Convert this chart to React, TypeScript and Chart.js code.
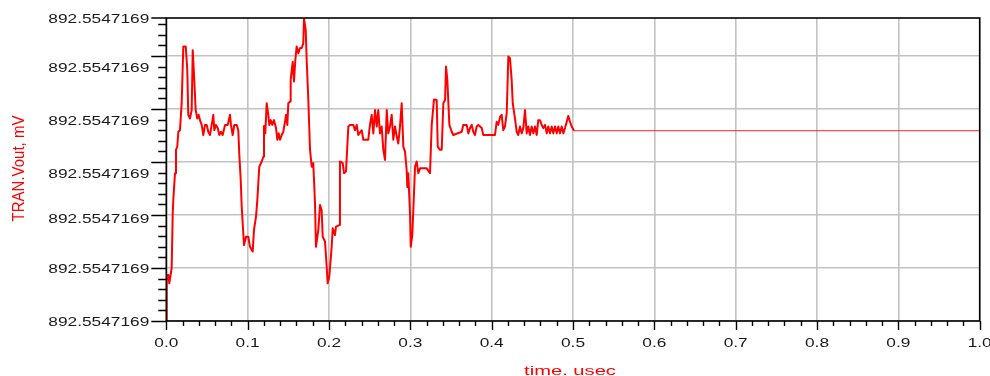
import React, { useEffect, useRef } from 'react';
import { Chart, registerables } from 'chart.js';

Chart.register(...registerables);

// time axis, usec
const timeUs = [
  0.0000, 0.0005, 0.0012, 0.0025, 0.0037, 0.0066, 0.0079, 0.0086, 0.0107, 0.0119,
  0.0135, 0.0148, 0.0168, 0.0189, 0.0209, 0.0239, 0.0258, 0.0270, 0.0291, 0.0312,
  0.0325, 0.0344, 0.0361, 0.0381, 0.0398, 0.0414, 0.0435, 0.0455, 0.0476, 0.0497,
  0.0516, 0.0537, 0.0558, 0.0578, 0.0590, 0.0611, 0.0632, 0.0652, 0.0672, 0.0693,
  0.0722, 0.0755, 0.0783, 0.0795, 0.0816, 0.0836, 0.0866, 0.0885, 0.0897, 0.0915,
  0.0927, 0.0955, 0.0980, 0.1008, 0.1029, 0.1062, 0.1078, 0.1103, 0.1119, 0.1143,
  0.1173, 0.1193, 0.1201, 0.1217, 0.1234, 0.1254, 0.1266, 0.1284, 0.1303, 0.1324,
  0.1349, 0.1365, 0.1382, 0.1398, 0.1419, 0.1438, 0.1456, 0.1472, 0.1488, 0.1500,
  0.1521, 0.1529, 0.1554, 0.1570, 0.1586, 0.1603, 0.1623, 0.1644, 0.1665, 0.1684,
  0.1693, 0.1714, 0.1726, 0.1746, 0.1767, 0.1788, 0.1807, 0.1828, 0.1840, 0.1869,
  0.1890, 0.1910, 0.1923, 0.1951, 0.1972, 0.1984, 0.2004, 0.2033, 0.2046, 0.2074,
  0.2086, 0.2127, 0.2135, 0.2169, 0.2185, 0.2209, 0.2238, 0.2258, 0.2299, 0.2320,
  0.2341, 0.2360, 0.2402, 0.2422, 0.2483, 0.2504, 0.2525, 0.2545, 0.2566, 0.2587,
  0.2606, 0.2627, 0.2648, 0.2668, 0.2689, 0.2710, 0.2729, 0.2750, 0.2771, 0.2791,
  0.2812, 0.2833, 0.2852, 0.2873, 0.2894, 0.2914, 0.2935, 0.2955, 0.2963, 0.2975,
  0.2996, 0.3005, 0.3024, 0.3037, 0.3058, 0.3078, 0.3098, 0.3119, 0.3201, 0.3242,
  0.3263, 0.3291, 0.3324, 0.3337, 0.3365, 0.3386, 0.3406, 0.3427, 0.3439, 0.3455,
  0.3480, 0.3509, 0.3528, 0.3632, 0.3651, 0.3693, 0.3713, 0.3734, 0.3755, 0.3774,
  0.3795, 0.3816, 0.3836, 0.3878, 0.3897, 0.4041, 0.4062, 0.4082, 0.4103, 0.4123,
  0.4143, 0.4164, 0.4185, 0.4205, 0.4225, 0.4246, 0.4259, 0.4287, 0.4308, 0.4327,
  0.4348, 0.4369, 0.4389, 0.4410, 0.4431, 0.4451, 0.4471, 0.4492, 0.4512, 0.4533,
  0.4554, 0.4573, 0.4594, 0.4615, 0.4635, 0.4656, 0.4677, 0.4696, 0.4717, 0.4738,
  0.4758, 0.4779, 0.4800, 0.4819, 0.4840, 0.4861, 0.4881, 0.4902, 0.4923, 0.4942,
  0.4963, 0.4984, 0.5012,
];

// TRAN.Vout deviation (relative units, one unit = one grid division)
const voutOffset = [
  0.00, 0.74, 0.87, 0.87, 0.71, 1.00, 2.04, 2.28, 2.79, 3.23,
  3.29, 3.57, 3.60, 4.11, 5.18, 5.18, 4.74, 3.89, 3.82, 3.98,
  5.11, 4.55, 3.98, 3.82, 3.89, 3.79, 3.70, 3.51, 3.70, 3.70,
  3.57, 3.51, 3.70, 3.89, 3.60, 3.70, 3.64, 3.51, 3.57, 3.51,
  3.70, 3.70, 3.89, 3.70, 3.51, 3.70, 3.70, 3.60, 3.16, 2.66,
  2.16, 1.43, 1.59, 1.59, 1.40, 1.31, 1.72, 1.97, 2.28, 2.91,
  3.01, 3.10, 3.68, 3.54, 4.11, 3.89, 3.70, 3.79, 3.70, 3.79,
  3.64, 3.42, 3.54, 3.42, 3.51, 3.57, 3.73, 3.89, 3.70, 4.11,
  4.14, 4.55, 4.89, 4.52, 4.92, 5.18, 5.05, 5.15, 5.15, 5.24,
  5.71, 5.49, 4.92, 4.17, 3.23, 2.91, 2.98, 2.23, 1.40, 1.72,
  2.19, 2.09, 1.59, 1.50, 1.02, 0.71, 0.84, 1.40, 1.75, 1.62,
  1.78, 1.81, 3.01, 2.98, 2.79, 2.82, 3.67, 3.70, 3.70, 3.60,
  3.70, 3.51, 3.60, 3.42, 3.42, 3.70, 3.89, 3.54, 3.98, 3.67,
  3.98, 3.54, 3.67, 3.23, 3.04, 3.98, 3.54, 3.67, 3.89, 3.42,
  3.67, 3.48, 3.35, 3.67, 4.11, 3.29, 3.19, 2.85, 2.53, 2.79,
  2.03, 1.40, 1.62, 2.09, 2.91, 3.01, 2.79, 2.88, 2.88, 2.79,
  3.70, 4.18, 4.17, 3.29, 3.23, 3.23, 4.11, 4.17, 4.80, 4.55,
  3.70, 3.57, 3.51, 3.57, 3.70, 3.70, 3.54, 3.64, 3.70, 3.57,
  3.51, 3.67, 3.70, 3.64, 3.51, 3.51, 3.76, 3.70, 3.85, 3.89,
  3.60, 3.67, 3.92, 4.99, 4.96, 4.55, 4.11, 3.82, 3.57, 3.51,
  3.67, 3.54, 3.64, 3.98, 3.54, 3.67, 3.51, 3.67, 3.54, 3.67,
  3.51, 3.79, 3.79, 3.70, 3.64, 3.70, 3.54, 3.67, 3.54, 3.67,
  3.54, 3.67, 3.54, 3.67, 3.54, 3.67, 3.54, 3.64, 3.76, 3.87,
  3.76, 3.67, 3.59,
];

// settled tail
const tailTime = [0.5012, 1.0];
const tailValue = [3.59, 3.59];

// axes
const xMin = 0;
const xMax = 1.0;
const xTickValues = [0, 0.1, 0.2, 0.3, 0.4, 0.5, 0.6, 0.7, 0.8, 0.9, 1.0];
const xTickLabels = ['0.0', '0.1', '0.2', '0.3', '0.4', '0.5', '0.6', '0.7', '0.8', '0.9', '1.0'];
const yMin = 0;
const yMax = 5.717;
const yGridValues = [0, 1, 2, 3, 4, 5];
const yLabelValues = [0, 1.0, 1.943, 2.783, 3.783, 4.79, 5.717];
const yTickLabels = [
  '892.5547169', '892.5547169', '892.5547169', '892.5547169',
  '892.5547169', '892.5547169', '892.5547169',
];
const xTitle = 'time. usec';
const yTitle = 'TRAN.Vout, mV';

const FONT = '"Liberation Sans", Arial, Helvetica, sans-serif';

function drawStretched(ctx: CanvasRenderingContext2D, text: string, x: number, y: number, sx: number, align: CanvasTextAlign) {
  ctx.save();
  ctx.translate(x, y);
  ctx.scale(sx, 1);
  ctx.textAlign = align;
  ctx.fillText(text, 0, 0);
  ctx.restore();
}

const adsAxesPlugin = {
  id: 'adsAxes',
  afterDraw(chart: any) {
    const { ctx, chartArea: a, scales } = chart;
    const xs = scales.x;
    const ys = scales.y;
    ctx.save();

    // frame
    ctx.strokeStyle = '#000';
    ctx.lineWidth = 1.6;
    ctx.strokeRect(a.left, a.top, a.right - a.left, a.bottom - a.top);

    // tick marks
    ctx.lineWidth = 1.4;
    ctx.beginPath();
    const yStep = 0.2;
    for (let i = 0; i * yStep <= yMax + 1e-9; i++) {
      const v = i * yStep;
      const major = i % 5 === 0;
      const py = Math.round(ys.getPixelForValue(v)) + 0.5;
      ctx.moveTo(a.left - (major ? 15 : 8), py);
      ctx.lineTo(a.left, py);
    }
    ctx.moveTo(a.left - 15, a.top);
    ctx.lineTo(a.left, a.top);
    const xStep = 0.02;
    for (let i = 0; i * xStep <= xMax + 1e-9; i++) {
      const v = i * xStep;
      const major = i % 5 === 0;
      const px = Math.round(xs.getPixelForValue(v)) + 0.5;
      ctx.moveTo(px, a.bottom);
      ctx.lineTo(px, a.bottom + (major ? 9 : 5));
    }
    ctx.stroke();

    // tick labels
    ctx.fillStyle = '#1a1a1a';
    ctx.font = `13px ${FONT}`;
    ctx.textBaseline = 'alphabetic';
    yLabelValues.forEach((v, i) => {
      const py = ys.getPixelForValue(v);
      drawStretched(ctx, yTickLabels[i], a.left - 17, py + 4.7, 1.33, 'right');
    });
    xTickValues.forEach((v, i) => {
      const px = xs.getPixelForValue(v);
      drawStretched(ctx, xTickLabels[i], px, a.bottom + 26, 1.33, 'center');
    });

    // titles
    ctx.fillStyle = '#ff0000';
    ctx.font = `13px ${FONT}`;
    drawStretched(ctx, xTitle, (a.left + a.right) / 2 - 3, a.bottom + 54, 1.55, 'center');

    ctx.save();
    ctx.font = `15px ${FONT}`;
    ctx.translate(19, (a.top + a.bottom) / 2 - 1);
    ctx.rotate(-Math.PI / 2);
    ctx.scale(1, 1.12);
    ctx.textAlign = 'center';
    ctx.textBaseline = 'middle';
    ctx.fillText(yTitle, 0, 0);
    ctx.restore();

    ctx.restore();
  },
};

export default function App() {
  const canvasRef = useRef<HTMLCanvasElement | null>(null);

  useEffect(() => {
    const canvas = canvasRef.current;
    if (!canvas) return;
    const n = Math.min(timeUs.length, voutOffset.length);
    const mainPoints = [];
    for (let i = 0; i < n; i++) mainPoints.push({ x: timeUs[i], y: voutOffset[i] });
    const tailPoints = tailTime.map((t, i) => ({ x: t, y: tailValue[i] }));

    const gridStyle = { color: '#c2c2c2', lineWidth: 1.6, drawTicks: false };

    const chart = new Chart(canvas, {
      type: 'line',
      data: {
        datasets: [
          {
            label: 'TRAN.Vout',
            data: mainPoints,
            borderColor: '#ff0000',
            borderWidth: 2,
            pointRadius: 0,
            tension: 0,
            borderJoinStyle: 'round',
            fill: false,
          },
          {
            label: 'TRAN.Vout tail',
            data: tailPoints,
            borderColor: '#ff2020',
            borderWidth: 1,
            pointRadius: 0,
            tension: 0,
            fill: false,
          },
        ],
      },
      options: {
        responsive: false,
        animation: false,
        devicePixelRatio: 1,
        layout: { padding: { left: 166.3, right: 10.3, top: 18, bottom: 55 } },
        plugins: { legend: { display: false }, tooltip: { enabled: false } },
        scales: {
          x: {
            type: 'linear',
            min: xMin,
            max: xMax,
            afterFit: (s: any) => { s.height = 0; },
            afterBuildTicks: (s: any) => { s.ticks = xTickValues.map((v) => ({ value: v })); },
            ticks: { display: false },
            grid: gridStyle,
            border: { display: false },
          },
          y: {
            type: 'linear',
            min: yMin,
            max: yMax,
            afterFit: (s: any) => { s.width = 0; },
            afterBuildTicks: (s: any) => { s.ticks = yGridValues.map((v) => ({ value: v })); },
            ticks: { display: false },
            grid: gridStyle,
            border: { display: false },
          },
        },
      },
      plugins: [adsAxesPlugin],
    } as any);

    return () => chart.destroy();
  }, []);

  return (
    <div style={{ position: 'absolute', left: 0, top: 0, width: 990, height: 376, background: '#fff' }}>
      <canvas ref={canvasRef} width={990} height={376} style={{ display: 'block', width: 990, height: 376 }} />
    </div>
  );
}
